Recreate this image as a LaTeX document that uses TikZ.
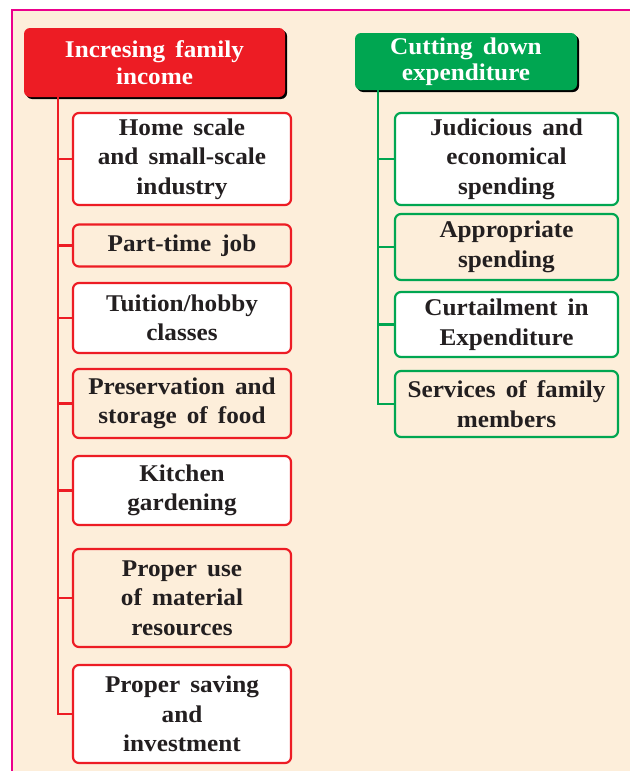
\documentclass[tikz,border=0pt]{standalone}
\usepackage{fontspec}
\setmainfont{Liberation Serif}[FakeStretch=1.05,WordSpace=1.6]
\usetikzlibrary{shadows}
\definecolor{boxred}{HTML}{ED1C24}
\definecolor{boxgreen}{HTML}{00A651}
\definecolor{pagepink}{HTML}{EC008C}
\definecolor{peach}{HTML}{FDEEDA}
\definecolor{inkdark}{HTML}{231F20}

\begin{document}
\begin{tikzpicture}[x=1pt,y=-1pt]
  \tikzset{every node/.style={align=center,inner sep=0pt,text=inkdark,
             font=\fontsize{24}{29.5}\selectfont\bfseries},
           headbox/.style={rounded corners=6pt,text=white,
             font=\fontsize{24}{26.5}\selectfont\bfseries,
             drop shadow={shadow xshift=2pt,shadow yshift=-2pt,opacity=1,fill=black}},
           redbox/.style={draw=boxred,line width=2.2pt,rounded corners=6pt,
             minimum width=218pt},
           greenbox/.style={draw=boxgreen,line width=2.2pt,rounded corners=6pt,
             minimum width=223pt}}
  % page
  \useasboundingbox (0,0) rectangle (630,771);
  \fill[peach] (12,10) rectangle (630,771);
  \draw[pagepink,line width=1.5pt] (12,771) -- (12,10) -- (630,10);
  % headers
  \node[headbox,fill=boxred,minimum width=261pt,minimum height=69pt]
       (redhead) at (154.5,62.5) {Incresing family\\income};
  \node[headbox,fill=boxgreen,minimum width=222pt,minimum height=57pt]
       (greenhead) at (466,61.5) {Cutting down\\expenditure};
  % income boxes
  \node[redbox,fill=white,minimum height=92pt] (r1) at (182,159) {Home scale\\and small-scale\\industry};
  \node[redbox,fill=peach,minimum height=42pt] (r2) at (182,245.5) {Part-time job};
  \node[redbox,fill=white,minimum height=70pt] (r3) at (182,318) {Tuition/hobby\\classes};
  \node[redbox,fill=peach,minimum height=69pt] (r4) at (182,403.5) {Preservation and\\storage of food};
  \node[redbox,fill=white,minimum height=69pt] (r5) at (182,490.5) {Kitchen\\gardening};
  \node[redbox,fill=peach,minimum height=98pt] (r6) at (182,598) {Proper use\\of material\\resources};
  \node[redbox,fill=white,minimum height=98pt] (r7) at (182,714) {Proper saving\\and\\investment};
  % expenditure boxes
  \node[greenbox,fill=white,minimum height=92pt] (g1) at (506.5,159) {Judicious and\\economical\\spending};
  \node[greenbox,fill=peach,minimum height=66pt] (g2) at (506.5,247) {Appropriate\\spending};
  \node[greenbox,fill=white,minimum height=65pt] (g3) at (506.5,324.5) {Curtailment in\\Expenditure};
  \node[greenbox,fill=peach,minimum height=66pt] (g4) at (506.5,404) {Services of family\\members};
  % connectors
  \coordinate (rtop) at ([xshift=34pt]redhead.south west);
  \coordinate (gtop) at ([xshift=23pt]greenhead.south west);
  \draw[boxred,line width=2.4pt] (rtop) |- (r7.west);
  \foreach \n in {r1,r2,r3,r4,r5,r6}
    \draw[boxred,line width=2.4pt] (rtop |- \n.west) -- (\n.west);
  \draw[boxgreen,line width=2.4pt] (gtop) |- (g4.west);
  \foreach \n in {g1,g2,g3}
    \draw[boxgreen,line width=2.4pt] (gtop |- \n.west) -- (\n.west);
\end{tikzpicture}
\end{document}
